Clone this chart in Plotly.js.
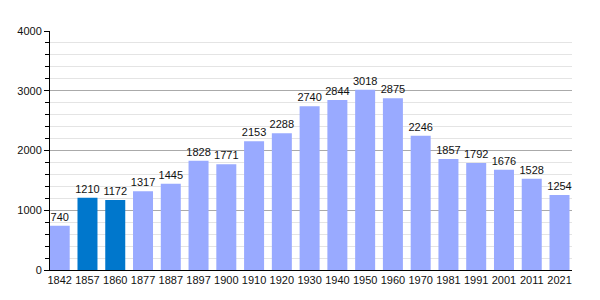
<!DOCTYPE html>
<html><head><meta charset="utf-8">
<script src="https://cdn.plot.ly/plotly-3.0.1.min.js"></script>
<style>body{margin:0;background:#fff}#c{width:600px;height:300px}</style>
</head><body><div id="c"></div>
<script>
const years = ["1842","1857","1860","1877","1887","1897","1900","1910","1920","1930","1940","1950","1960","1970","1981","1991","2001","2011","2021"];
const population = [740,1210,1172,1317,1445,1828,1771,2153,2288,2740,2844,3018,2875,2246,1857,1792,1676,1528,1254];
const highlighted = ["1857","1860"];
const lightColor = "#99aaff";
const darkColor = "#0077cc";
const colors = years.map(y => highlighted.includes(y) ? darkColor : lightColor);

Plotly.newPlot("c", [{
  type: "bar",
  x: years,
  y: population,
  marker: {color: colors},
  width: 0.72,
  text: population.map(String),
  textposition: "outside",
  constraintext: "none",
  cliponaxis: false,
  textfont: {family: "Liberation Sans, Arial, sans-serif", size: 11, color: "#111"},
  hoverinfo: "none"
}], {
  width: 600, height: 300,
  margin: {l: 50, r: 28, t: 31, b: 30},
  paper_bgcolor: "#fff", plot_bgcolor: "#fff",
  showlegend: false,
  font: {family: "Liberation Sans, Arial, sans-serif", size: 11, color: "#111"},
  bargap: 0.28,
  xaxis: {
    type: "category",
    range: [-0.35, 18.45],
    showline: true, linecolor: "#000", linewidth: 1,
    ticks: "", showgrid: false, zeroline: false,
    tickfont: {size: 11, color: "#111"},
    fixedrange: true
  },
  yaxis: {
    range: [0, 4000],
    tickvals: [0, 1000, 2000, 3000, 4000],
    ticktext: ["0","1000","2000","3000","4000"],
    ticks: "outside", ticklen: 5, tickcolor: "#000",
    showline: true, linecolor: "#000", linewidth: 1,
    showgrid: true, gridcolor: "#aaaaaa", gridwidth: 1,
    zeroline: false,
    minor: {dtick: 200, tick0: 0, ticks: "outside", ticklen: 4, tickcolor: "#000", showgrid: true, gridcolor: "#e4e4e4", gridwidth: 1},
    tickfont: {size: 11, color: "#111"},
    fixedrange: true
  }
}, {staticPlot: true});
</script></body></html>
